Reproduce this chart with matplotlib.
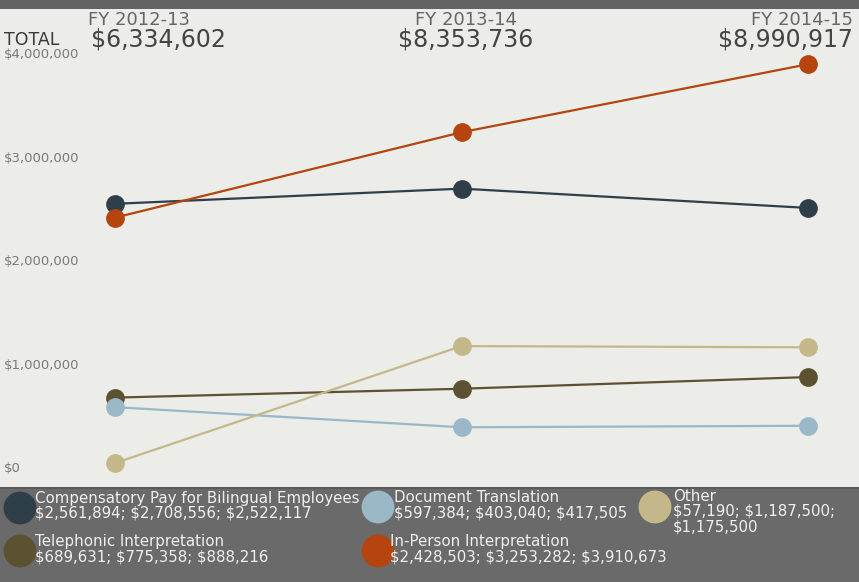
import matplotlib.pyplot as plt
from matplotlib.patches import Rectangle

plt.rcParams["text.parse_math"] = False

# fiscal years and series
years = ["FY 2012-13", "FY 2013-14", "FY 2014-15"]
totals = ["$6,334,602", "$8,353,736", "$8,990,917"]

comp_pay = [2561894, 2708556, 2522117]
telephonic = [689631, 775358, 888216]
document = [597384, 403040, 417505]
other = [57190, 1187500, 1175500]
in_person = [2428503, 3253282, 3910673]

yticks = [0, 1000000, 2000000, 3000000, 4000000]
ytick_labels = ["$0", "$1,000,000", "$2,000,000", "$3,000,000", "$4,000,000"]

series = [
    ("Compensatory Pay for Bilingual Employees", comp_pay, "#2f3f4a"),
    ("Telephonic Interpretation", telephonic, "#5c5232"),
    ("Document Translation", document, "#9bb8c8"),
    ("Other", other, "#c4b88a"),
    ("In-Person Interpretation", in_person, "#b5440f"),
]

W, H = 859, 582
bg = "#ecece8"

fig = plt.figure(figsize=(W / 100, H / 100), dpi=100, facecolor=bg)

# dark strip on top
fig.patches.append(Rectangle((0, 1 - 9 / H), 1, 9 / H, transform=fig.transFigure,
                             facecolor="#636363", edgecolor="none"))

# main plot
ax = fig.add_axes([0, 95 / H, 1, (487 - 9) / H])
ax.set_facecolor(bg)
x = list(range(len(years)))
for name, vals, col in series:
    ax.plot(x, vals, color=col, lw=1.6, marker="o", ms=13.5,
            markeredgewidth=0, solid_capstyle="round")
ax.set_xlim(-0.332, 2.147)
ax.set_ylim(-174000, 4444000)
for s in ax.spines.values():
    s.set_visible(False)
ax.set_xticks([])
ax.set_yticks([])
for v, lab in zip(yticks, ytick_labels):
    ax.text(0.005, v, lab, transform=ax.get_yaxis_transform(), ha="left",
            va="center", fontsize=9.5, color="#7a7a7a")

# column headers
def px(xp, yp):
    return xp / W, 1 - yp / H

fig.text(*px(139, 20), years[0], ha="center", va="center", fontsize=13,
         color="#666666")
fig.text(*px(466, 20), years[1], ha="center", va="center", fontsize=13,
         color="#666666")
fig.text(*px(853, 20), years[2], ha="right", va="center", fontsize=13,
         color="#666666")
fig.text(*px(4, 40), "TOTAL", ha="left", va="center", fontsize=12.5,
         color="#3a3a3a")
fig.text(*px(158, 40), totals[0], ha="center", va="center", fontsize=17,
         color="#444444")
fig.text(*px(466, 40), totals[1], ha="center", va="center", fontsize=17,
         color="#444444")
fig.text(*px(853, 40), totals[2], ha="right", va="center", fontsize=17,
         color="#444444")

# legend strip
lax = fig.add_axes([0, 0, 1, 95 / H])
lax.set_xlim(0, W)
lax.set_ylim(95, 0)
lax.axis("off")
lax.add_patch(Rectangle((0, 0), W, 95, facecolor="#6a6a6a", edgecolor="none"))
lax.add_patch(Rectangle((0, 0), W, 2, facecolor="#5a5a5a", edgecolor="none"))

def fmt(vals):
    return "; ".join(f"${v:,}" for v in vals)

legend_pos = {
    "Compensatory Pay for Bilingual Employees": (20, 21, 35),
    "Telephonic Interpretation": (20, 64, 35),
    "Document Translation": (378, 20, 394),
    "Other": (655, 20, 673),
    "In-Person Interpretation": (378, 64, 390),
}
for name, vals, col in series:
    cx, cy, tx = legend_pos[name]
    lax.scatter([cx], [cy], s=560, color=col, edgecolors="none", zorder=2)
    txt = fmt(vals)
    if name == "Other":
        txt = f"${vals[0]:,}; ${vals[1]:,};\n${vals[2]:,}"
    top = cy - 17 if name != "Other" else cy - 18
    lax.text(tx, top, name + "\n" + txt, ha="left", va="top", fontsize=10.8,
             color="#f0f0f0", linespacing=1.0, zorder=3)

fig.savefig("out.png", dpi=100, facecolor=bg)
